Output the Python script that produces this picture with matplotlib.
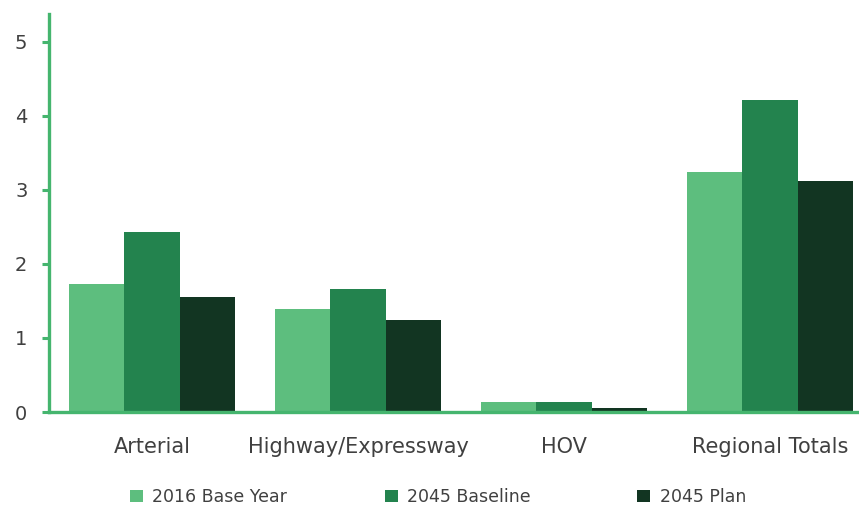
import matplotlib
matplotlib.use("Agg")
import matplotlib.pyplot as plt
import numpy as np
from matplotlib.patches import Patch

categories = ["Arterial", "Highway/Expressway", "HOV", "Regional Totals"]
series_names = ["2016 Base Year", "2045 Baseline", "2045 Plan"]
base_2016 = [1.73, 1.39, 0.13, 3.24]
baseline_2045 = [2.43, 1.66, 0.13, 4.21]
plan_2045 = [1.55, 1.24, 0.05, 3.12]
series_values = [base_2016, baseline_2045, plan_2045]
colors = ["#5DBE7E", "#23834E", "#123522"]
yticks = [0, 1, 2, 3, 4, 5]

axis_green = "#45B56E"
text_grey = "#404040"
font = "DejaVu Sans"

fig = plt.figure(figsize=(8.59, 5.05), dpi=100)
ax = fig.add_axes([0.057, 0.184, 0.943, 0.788])

x = np.arange(len(categories))
width = 0.27
for i, (vals, col) in enumerate(zip(series_values, colors)):
    ax.bar(x + (i - 1) * width, vals, width, color=col, linewidth=0)

ax.set_xlim(-0.5, 3.432)
ax.set_ylim(0, 5.37)
ax.set_yticks(yticks)
ax.set_xticks(x)
ax.set_xticklabels(categories, fontsize=15, color=text_grey, family=font)
ax.set_yticklabels([str(t) for t in yticks], fontsize=14, color=text_grey, family=font)

for s in ["top", "right"]:
    ax.spines[s].set_visible(False)
for s in ["left", "bottom"]:
    ax.spines[s].set_color(axis_green)
    ax.spines[s].set_linewidth(2.4)
ax.tick_params(axis="y", length=5, width=2.2, color=axis_green, pad=10.5)
ax.tick_params(axis="x", length=0, pad=18)

# legend entries placed in a row beneath the chart
legend_x = [0.151, 0.448, 0.742]
for name, col, lx in zip(series_names, colors, legend_x):
    leg = fig.legend(handles=[Patch(facecolor=col, edgecolor="none")], labels=[name],
                     loc="center left", bbox_to_anchor=(lx, 0.016), frameon=False,
                     handlelength=0.75, handleheight=0.75, handletextpad=0.55,
                     borderaxespad=0, borderpad=0,
                     prop={"family": font, "size": 12.5})
    for t in leg.get_texts():
        t.set_color(text_grey)

fig.savefig("out.png", dpi=100)
